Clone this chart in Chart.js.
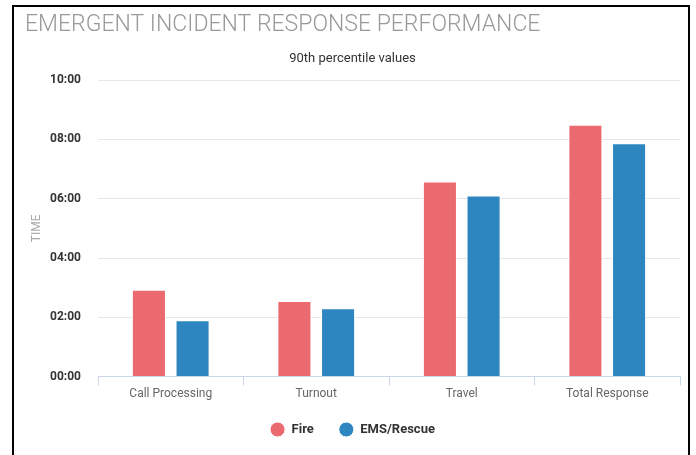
<!DOCTYPE html>
<html>
<head>
<meta charset="utf-8">
<script src="https://cdn.jsdelivr.net/npm/chart.js@4"></script>
<style>
  html, body { margin: 0; padding: 0; background: #fff; overflow: hidden; }
  #frame {
    position: absolute; left: 12px; top: 5px; width: 674px; height: 460px;
    border: 2px solid #000; border-bottom: none; background: #fff;
  }
  #wrap { position: absolute; left: 0; top: 0; width: 674px; height: 448px; }
</style>
</head>
<body>
<div id="frame"><div id="wrap"><canvas id="myChart"></canvas></div></div>
<script>
// values in minutes
let categories = ["Call Processing", "Turnout", "Travel", "Total Response"];
let fireValues = [2.93, 2.55, 6.58, 8.5];
let emsValues = [1.9, 2.31, 6.11, 7.87];
let yTicks = [0, 2, 4, 6, 8, 10];

function pad(n) {
    return (n < 10 ? "0" : "") + n;
}

function fmtTime(v) {
    let m = Math.floor(v);
    let s = Math.round((v - m) * 60);
    return pad(m) + ":" + pad(s);
}

// pull the legend a little closer to the axis labels
const legendNudge = {
    id: "legendNudge",
    afterLayout(chart) {
        chart.legend.top -= 4;
        chart.legend.bottom -= 4;
    }
};

let ctx = document.getElementById("myChart").getContext("2d");

let responseChart = new Chart(ctx, {
    type: "bar",
    data: {
        labels: categories,
        datasets: [{
                label: "Fire",
                data: fireValues,
                backgroundColor: "#ea6a6f",
                borderColor: "#ffffff",
                borderWidth: 1
            },
            {
                label: "EMS/Rescue",
                data: emsValues,
                backgroundColor: "#2e86c1",
                borderColor: "#ffffff",
                borderWidth: 1
            }
        ]
    },
    plugins: [legendNudge],
    options: {
        responsive: true,
        maintainAspectRatio: false,
        animation: false,
        categoryPercentage: 0.6,
        barPercentage: 0.78,
        layout: {
            padding: { left: 11, right: 8, top: 4, bottom: 5 }
        },
        plugins: {
            tooltip: { enabled: false },
            title: {
                display: true,
                text: "EMERGENT INCIDENT RESPONSE PERFORMANCE",
                align: "start",
                color: "#999999",
                font: { family: "Roboto", size: 23, weight: "300" },
                padding: { top: 0, bottom: 12 }
            },
            subtitle: {
                display: true,
                text: "90th percentile values",
                color: "#333333",
                font: { family: "Roboto", size: 13 },
                padding: { top: 0, bottom: 14 }
            },
            legend: {
                display: true,
                position: "bottom",
                labels: {
                    usePointStyle: true,
                    pointStyle: "circle",
                    pointStyleWidth: 15,
                    boxHeight: 10.6,
                    padding: 25,
                    color: "#333333",
                    font: { family: "Roboto", size: 13, weight: "bold" }
                }
            }
        },
        scales: {
            y: {
                min: 0,
                max: 10,
                afterBuildTicks: function(axis) {
                    axis.ticks = yTicks.map(v => ({ value: v }));
                },
                afterFit: function(axis) {
                    axis.width = 73;
                },
                title: {
                    display: true,
                    text: "TIME",
                    color: "#aaaaaa",
                    font: { family: "Roboto", size: 12 },
                    padding: { top: 5, bottom: 8 }
                },
                ticks: {
                    callback: function(value) {
                        return fmtTime(value);
                    },
                    color: "#333333",
                    padding: 17,
                    font: { family: "Roboto", size: 12, weight: "bold" }
                },
                grid: {
                    color: "#e6e6e6",
                    drawTicks: false
                },
                border: { display: false }
            },
            x: {
                ticks: {
                    color: "#666666",
                    padding: 1,
                    font: { family: "Roboto", size: 12 }
                },
                grid: {
                    offset: true,
                    drawOnChartArea: false,
                    color: "#ccd6eb",
                    tickLength: 9
                },
                border: { color: "#ccd6eb" }
            }
        }
    }
});
</script>
</body>
</html>
